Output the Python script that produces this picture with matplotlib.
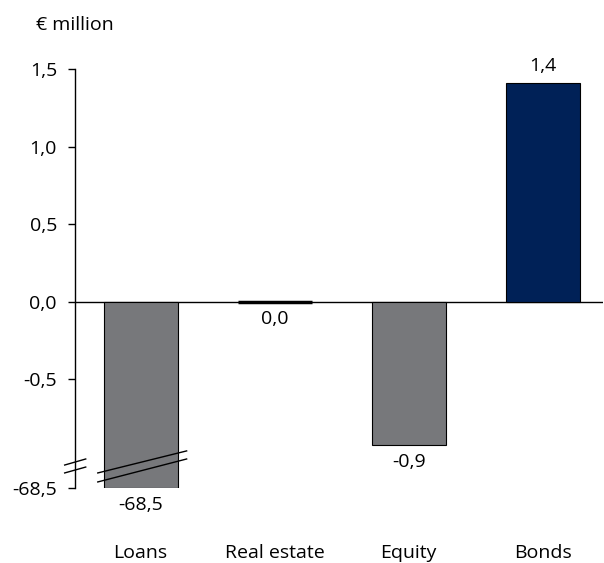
import matplotlib

matplotlib.use("Agg")
import matplotlib.pyplot as plt

# Data
categories = ["Loans", "Real estate", "Equity", "Bonds"]
values = [-68.5, 0.0, -0.92, 1.41]
bar_colors = ["#77787b", "#77787b", "#77787b", "#002157"]
tick_values = [1.5, 1.0, 0.5, 0.0, -0.5]
tick_labels = ["1,5", "1,0", "0,5", "0,0", "-0,5"]
break_value = -68.5      # value shown at the bottom of the broken axis
break_level = -1.2       # where that value is drawn on the visible scale

plt.rcParams["font.family"] = ["Open Sans", "DejaVu Sans"]
plt.rcParams["font.size"] = 14


def fmt(v):
    return f"{v:.1f}".replace(".", ",")


fig = plt.figure(figsize=(6.04, 5.63), dpi=100)
ax = fig.add_axes([75 / 604, 1 - 488 / 563, 528 / 604, (488 - 69) / 563])

x = list(range(len(categories)))
shown = [max(v, break_level) for v in values]
ax.bar(x, shown, width=0.55, color=bar_colors, edgecolor="black", linewidth=0.8, zorder=2)
# real estate is zero: thick line at the baseline
ax.plot([x[1] - 0.275, x[1] + 0.275], [0, 0], color="black", lw=2.5, zorder=3,
        solid_capstyle="butt")

ax.axhline(0, color="black", lw=1, zorder=1)

for xi, v, s in zip(x, values, shown):
    if v > 0:
        ax.annotate(fmt(v), (xi, s), xytext=(0, 6), textcoords="offset points",
                    ha="center", va="bottom")
    else:
        ax.annotate(fmt(v), (xi, s), xytext=(0, -6), textcoords="offset points",
                    ha="center", va="top")

ax.set_xlim(-0.49, 3.45)
ax.set_ylim(break_level, 1.5)
ax.set_yticks(tick_values + [break_level])
ax.set_yticklabels(tick_labels + [fmt(break_value)])
ax.set_xticks(x)
ax.set_xticklabels(categories)
ax.tick_params(axis="y", direction="out", length=5, width=1, pad=8)
ax.tick_params(axis="x", length=0, pad=40)
for side in ("top", "right", "bottom"):
    ax.spines[side].set_visible(False)
ax.spines["left"].set_linewidth(1)

# break marks on the axis
for y0, y1 in ((-1.052, -1.013), (-1.103, -1.065)):
    ax.plot([-0.567, -0.41], [y0, y1], color="black", lw=1, clip_on=False, zorder=4)
# break marks across the loans bar
for y0, y1 in ((-1.103, -0.961), (-1.161, -1.013)):
    ax.plot([-0.32, 0.343], [y0, y1], color="black", lw=1, clip_on=False, zorder=4)

fig.text(36 / 604, 1 - 25 / 563, "€ million", ha="left", va="center", fontsize=14)

fig.savefig("out.png", dpi=100)
